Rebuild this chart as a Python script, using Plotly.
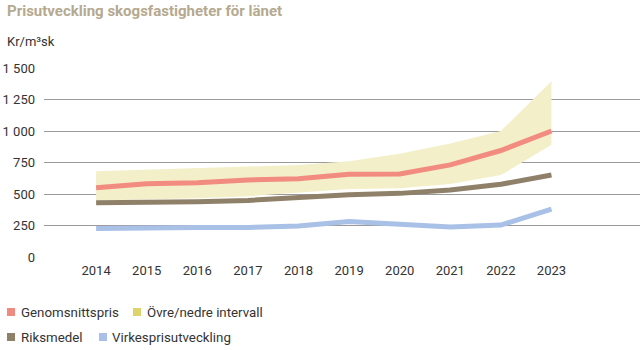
import plotly.graph_objects as go

years = [2014, 2015, 2016, 2017, 2018, 2019, 2020, 2021, 2022, 2023]
genomsnittspris = [550, 582, 590, 611, 622, 657, 659, 731, 845, 1000]
riksmedel = [431, 431, 439, 449, 470, 494, 505, 532, 577, 651]
virkespris = [226, 234, 234, 234, 247, 282, 261, 239, 253, 380]
ovre = [680, 692, 703, 716, 730, 760, 820, 900, 1000, 1395]
nedre = [448, 456, 466, 482, 508, 540, 545, 580, 650, 890]

y_ticks = [0, 250, 500, 750, 1000, 1250, 1500]
y_ticktext = ["0", "250", "500", "750", "1 000", "1 250", "1 500"]

legend_names = ["Genomsnittspris", "Övre/nedre intervall", "Riksmedel", "Virkesprisutveckling"]
legend_colors = ["#f08a80", "#ddd46c", "#8f806a", "#a9c1e6"]

RED = "#f28b80"
BROWN = "#8f806a"
BLUE = "#a9c1e6"
BAND = "#f3efc8"

fig = go.Figure()
fig.add_trace(go.Scatter(x=years, y=nedre, mode="lines", line=dict(width=0),
                         showlegend=False, hoverinfo="skip"))
fig.add_trace(go.Scatter(x=years, y=ovre, mode="lines", line=dict(width=0),
                         fill="tonexty", fillcolor=BAND, showlegend=False))
fig.add_trace(go.Scatter(x=years, y=virkespris, mode="lines",
                         line=dict(color=BLUE, width=5), showlegend=False))
fig.add_trace(go.Scatter(x=years, y=riksmedel, mode="lines",
                         line=dict(color=BROWN, width=5), showlegend=False))
fig.add_trace(go.Scatter(x=years, y=genomsnittspris, mode="lines",
                         line=dict(color=RED, width=5), showlegend=False))

annotations = [
    dict(text="<b>Prisutveckling skogsfastigheter för länet</b>", x=5, y=350 - 11,
         xref="paper", yref="paper", showarrow=False, xanchor="left", yanchor="middle",
         font=dict(size=15, color="#b5a98f", family="Roboto")),
    dict(text="Kr/m³sk", x=5, y=350 - 42, xref="paper", yref="paper", showarrow=False,
         xanchor="left", yanchor="middle", font=dict(size=13, color="#333333", family="Roboto")),
]

# legend positions (px)
leg_pos = [(7, 312, 19), (133, 312, 145), (7, 337, 19), (99, 337, 110)]
shapes = []
for (sx, sy, tx), name, col in zip(leg_pos, legend_names, legend_colors):
    shapes.append(dict(type="rect", xref="paper", yref="paper", x0=sx, x1=sx + 8,
                       y0=350 - sy - 4, y1=350 - sy + 4, fillcolor=col, line=dict(width=0)))
    annotations.append(dict(text=name, x=tx, y=350 - sy, xref="paper", yref="paper",
                            showarrow=False, xanchor="left", yanchor="middle",
                            font=dict(size=13.3, color="#333333", family="Roboto")))

# convert px-based paper coords into fractions
W, H = 640, 350
ML, MR, MT, MB = 44, 0, 68, 93
pw, ph = W - ML - MR, H - MT - MB
for a in annotations:
    a["x"] = (a["x"] - ML) / pw
    a["y"] = (a["y"] - MB) / ph
for s in shapes:
    s["x0"] = (s["x0"] - ML) / pw
    s["x1"] = (s["x1"] - ML) / pw
    s["y0"] = (s["y0"] - MB) / ph
    s["y1"] = (s["y1"] - MB) / ph

fig.update_layout(
    width=W, height=H,
    margin=dict(l=ML, r=MR, t=MT, b=MB),
    paper_bgcolor="white", plot_bgcolor="white",
    annotations=annotations, shapes=shapes,
    showlegend=False,
    xaxis=dict(range=[2012.97, 2024.75], tickvals=years, ticktext=[str(y) for y in years],
               showgrid=False, zeroline=False, showline=False, ticks="",
               tickfont=dict(size=13, color="#333333", family="Roboto"), ticklabelstandoff=4),
    yaxis=dict(range=[0, 1500], tickvals=y_ticks, ticktext=y_ticktext,
               showgrid=True, gridcolor="#9a9a9a", gridwidth=1, zeroline=False,
               showline=False, ticks="", ticklabelstandoff=8,
               tickfont=dict(size=13, color="#333333", family="Roboto")),
)

fig.write_html("out.html")
